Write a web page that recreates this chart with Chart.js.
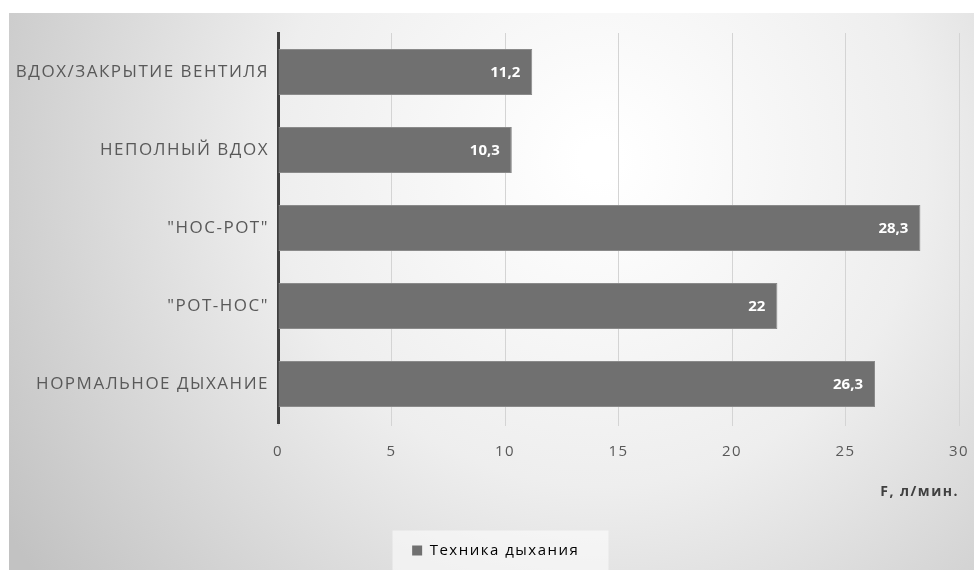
<!DOCTYPE html>
<html>
<head>
<meta charset="utf-8">
<script src="https://cdn.jsdelivr.net/npm/chart.js@4"></script>
<style>
  html, body { margin: 0; padding: 0; background: #fff; }
  #wrap { width: 974px; height: 570px; }
</style>
</head>
<body>
<div id="wrap"><canvas id="breathChart" width="974" height="570"></canvas></div>
<script>
// categories and values (top to bottom)
const techniques = ['ВДОХ/ЗАКРЫТИЕ ВЕНТИЛЯ', 'НЕПОЛНЫЙ ВДОХ', '"НОС-РОТ"', '"РОТ-НОС"', 'НОРМАЛЬНОЕ ДЫХАНИЕ'];
const flowRates = [11.2, 10.3, 28.3, 22, 26.3];
const xTicks = [0, 5, 10, 15, 20, 25, 30];
const seriesName = 'Техника дыхания';
const axisTitle = 'F, л/мин.';

const FONT = '"Open Sans", "DejaVu Sans", sans-serif';
const TEXT = '#595959';
const BAR = '#707070';

// soft grey backdrop behind the whole chart; axis text gets a little tracking
const backdrop = {
  id: 'backdrop',
  beforeLayout(chart) {
    chart.ctx.letterSpacing = '0px';
  },
  beforeDraw(chart) {
    const ctx = chart.ctx;
    const x0 = 9, y0 = 13, w = chart.width - x0, h = chart.height - y0;
    const g = ctx.createRadialGradient(600, 160, 20, 600, 160, 700);
    g.addColorStop(0, '#ffffff');
    g.addColorStop(0.45, '#eeeeee');
    g.addColorStop(1, '#c2c2c2');
    ctx.save();
    ctx.fillStyle = g;
    ctx.fillRect(x0, y0, w, h);

    // light panel behind the legend
    const lg = chart.legend;
    if (lg && lg.legendHitBoxes && lg.legendHitBoxes.length) {
      const hb = lg.legendHitBoxes[0];
      const cx = hb.left + hb.width / 2 + 16;
      ctx.fillStyle = 'rgba(255,255,255,0.55)';
      ctx.fillRect(cx - 108, hb.top + hb.height / 2 - 20, 216, 40);
    }
    ctx.restore();
    ctx.letterSpacing = '1.5px';
  },
  beforeDatasetsDraw(chart) {
    chart.ctx.letterSpacing = '0px';
  },
  afterDraw(chart) {
    chart.ctx.letterSpacing = '0px';
  }
};

// value labels inside the bar ends
const valueLabels = {
  id: 'valueLabels',
  afterDatasetsDraw(chart) {
    const ctx = chart.ctx;
    const meta = chart.getDatasetMeta(0);
    ctx.save();
    ctx.font = 'bold 15px ' + FONT;
    ctx.fillStyle = '#ffffff';
    ctx.textAlign = 'right';
    ctx.textBaseline = 'middle';
    meta.data.forEach((bar, i) => {
      const txt = String(flowRates[i]).replace('.', ',');
      ctx.fillText(txt, bar.x - 12, bar.y + 1);
    });
    ctx.restore();
  }
};

new Chart(document.getElementById('breathChart'), {
  type: 'bar',
  data: {
    labels: techniques,
    datasets: [{
      label: seriesName,
      data: flowRates,
      backgroundColor: BAR,
      borderColor: '#8a8a8a',
      borderWidth: 1,
      borderSkipped: 'left',
      categoryPercentage: 0.6,
      barPercentage: 0.98
    }]
  },
  options: {
    indexAxis: 'y',
    responsive: false,
    animation: false,
    layout: { padding: { left: 10, right: 15, top: 33, bottom: 2 } },
    plugins: {
      tooltip: { enabled: false },
      legend: {
        position: 'bottom',
        labels: {
          color: TEXT,
          font: { family: FONT, size: 15 },
          boxWidth: 10,
          boxHeight: 10,
          padding: 12,
          generateLabels(chart) {
            return [{
              text: seriesName,
              fillStyle: BAR,
              strokeStyle: BAR,
              lineWidth: 0,
              datasetIndex: 0
            }];
          }
        }
      }
    },
    scales: {
      x: {
        min: 0,
        max: 30,
        afterBuildTicks(scale) {
          scale.ticks = xTicks.map(v => ({ value: v }));
        },
        // edge label padding is already covered by the layout padding
        afterFit(scale) {
          scale.paddingLeft = 0;
          scale.paddingRight = 0;
        },
        grid: { color: '#d4d4d4', lineWidth: 1, tickLength: 3, drawTicks: true },
        border: { display: false },
        ticks: { color: TEXT, font: { family: FONT, size: 15 }, padding: 17 },
        title: {
          display: true,
          text: axisTitle,
          align: 'end',
          color: '#404040',
          font: { family: FONT, size: 14, weight: 'bold' },
          padding: { top: 5.6, bottom: 30.6 }
        }
      },
      y: {
        afterFit(scale) {
          scale.width = 268;
          scale.paddingTop = 0;
          scale.paddingBottom = 0;
        },
        grid: { display: false, tickLength: 0 },
        border: { display: true, color: '#404040', width: 3 },
        ticks: { color: TEXT, font: { family: FONT, size: 17 }, padding: 9 }
      }
    }
  },
  plugins: [backdrop, valueLabels]
});
</script>
</body>
</html>
